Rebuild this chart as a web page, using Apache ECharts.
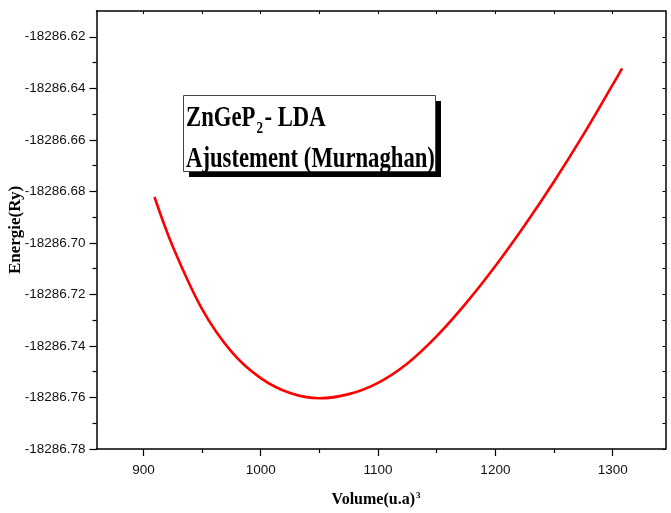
<!DOCTYPE html>
<html>
<head>
<meta charset="utf-8">
<script src="https://cdn.jsdelivr.net/npm/echarts@6/dist/echarts.min.js"></script>
<style>
  html, body { margin: 0; padding: 0; background: #fff; }
  #chart { width: 671px; height: 513px; }
</style>
</head>
<body>
<div id="chart"></div>
<script>
// Murnaghan fit of E(V) for ZnGeP2 (LDA)
const volume = [909.4, 925, 950, 975, 1000, 1025, 1050, 1075, 1100, 1125,
                1150, 1175, 1200, 1225, 1250, 1275, 1300, 1308];
const energy = [-18286.6822, -18286.7014, -18286.7257, -18286.7422, -18286.7525, -18286.7583,
                -18286.7603, -18286.7587, -18286.7543, -18286.7468, -18286.7362, -18286.7234,
                -18286.7090, -18286.6932, -18286.6762, -18286.6580, -18286.6386, -18286.6323];

const xTicks = [900, 1000, 1100, 1200, 1300];
const xMinorTicks = [950, 1050, 1150, 1250];
const yTicks = [-18286.78, -18286.76, -18286.74, -18286.72, -18286.70,
                -18286.68, -18286.66, -18286.64, -18286.62];
const yMinorTicks = [-18286.77, -18286.75, -18286.73, -18286.71,
                     -18286.69, -18286.67, -18286.65, -18286.63];

const xRange = [860, 1345];
const yRange = [-18286.78, -18286.61];

const black = '#000';
const labelFont = { fontFamily: 'Liberation Sans, Arial, sans-serif', fontSize: 13.5, color: '#111' };
const titleFont = { fontFamily: 'Liberation Serif, Times New Roman, serif', fontWeight: 'bold', color: '#000' };

function xAxisDef(extra) {
  return Object.assign({
    type: 'value', min: xRange[0], max: xRange[1],
    splitLine: { show: false },
    axisLine: { show: false, lineStyle: { color: black, width: 1.5 } },
    axisTick: { show: false },
    axisLabel: { show: false }
  }, extra);
}
function yAxisDef(extra) {
  return Object.assign({
    type: 'value', min: yRange[0], max: yRange[1], scale: true,
    splitLine: { show: false },
    axisLine: { show: false, lineStyle: { color: black, width: 1.5 } },
    axisTick: { show: false },
    axisLabel: { show: false }
  }, extra);
}

// caption text pieces (tall, condensed serif)
function captionText(str, x, y, size) {
  return {
    type: 'text', z: 12, x: x, y: y, scaleY: 1.25,
    style: {
      text: str, verticalAlign: 'top', fontSize: size, lineHeight: Math.round(size + 1),
      fontFamily: titleFont.fontFamily, fontWeight: 'bold', fill: '#000'
    }
  };
}

const chart = echarts.init(document.getElementById('chart'), null, { renderer: 'canvas' });

chart.setOption({
  animation: false,
  backgroundColor: '#fff',
  grid: { left: 96.5, top: 11, right: 5.5, bottom: 64, containLabel: false, outerBoundsMode: 'none' },
  xAxis: [
    xAxisDef({
      position: 'bottom',
      axisLine: { show: true, onZero: false, lineStyle: { color: black, width: 1.5 } },
      axisTick: { show: true, inside: false, length: 7, customValues: xTicks, lineStyle: { color: black, width: 1.2 } },
      axisLabel: Object.assign({ show: true, margin: 14, customValues: xTicks, formatter: v => String(v) }, labelFont),
      name: '{m|Volume(u.a)}{s|3}',
      nameLocation: 'middle',
      nameGap: 42,
      nameMoveOverlap: false,
      nameTextStyle: {
        padding: [0, 10, 0, 0],
        rich: {
          m: Object.assign({ fontSize: 16, lineHeight: 18 }, titleFont),
          s: Object.assign({ fontSize: 9, lineHeight: 18, verticalAlign: 'top', padding: [0, 0, 0, 1] }, titleFont)
        }
      }
    }),
    xAxisDef({
      position: 'bottom',
      axisTick: { show: true, inside: false, length: 4, customValues: xMinorTicks, lineStyle: { color: black, width: 1.2 } }
    }),
    xAxisDef({
      position: 'top',
      axisLine: { show: true, onZero: false, lineStyle: { color: black, width: 1.5 } },
      axisTick: { show: true, inside: true, length: 3, customValues: xTicks.concat(xMinorTicks), lineStyle: { color: black, width: 1 } }
    })
  ],
  yAxis: [
    yAxisDef({
      position: 'left',
      axisLine: { show: true, onZero: false, lineStyle: { color: black, width: 1.5 } },
      axisTick: { show: true, inside: false, length: 7, customValues: yTicks, lineStyle: { color: black, width: 1.2 } },
      axisLabel: Object.assign({ show: true, margin: 11, customValues: yTicks, formatter: v => v.toFixed(2) }, labelFont),
      name: 'Energie(Ry)',
      nameLocation: 'middle',
      nameRotate: 90,
      nameGap: 72,
      nameMoveOverlap: false,
      nameTextStyle: Object.assign({ fontSize: 17 }, titleFont)
    }),
    yAxisDef({
      position: 'left',
      axisTick: { show: true, inside: false, length: 4, customValues: yMinorTicks, lineStyle: { color: black, width: 1.2 } }
    }),
    yAxisDef({
      position: 'right',
      axisLine: { show: true, onZero: false, lineStyle: { color: black, width: 1.5 } },
      axisTick: { show: true, inside: true, length: 3, customValues: yTicks.concat(yMinorTicks), lineStyle: { color: black, width: 1 } }
    })
  ],
  series: [{
    type: 'line',
    xAxisIndex: 0,
    yAxisIndex: 0,
    data: volume.map((v, i) => [v, energy[i]]),
    smooth: 0.33,
    showSymbol: false,
    lineStyle: { color: '#ff0000', width: 2.6 }
  }],
  graphic: [
    // caption box with a drop shadow
    { type: 'rect', z: 10, shape: { x: 189, y: 101, width: 252, height: 76 }, style: { fill: '#000' } },
    { type: 'rect', z: 11, shape: { x: 183.5, y: 95.5, width: 252, height: 76 },
      style: { fill: '#fff', stroke: '#444', lineWidth: 1 } },
    captionText('ZnGeP', 186, 103.5, 22.7),
    captionText('2', 256.5, 120, 13),
    captionText('- LDA', 264.5, 103.5, 22.7),
    captionText('Ajustement (Murnaghan)', 186, 144.5, 22.7)
  ]
});
</script>
</body>
</html>
